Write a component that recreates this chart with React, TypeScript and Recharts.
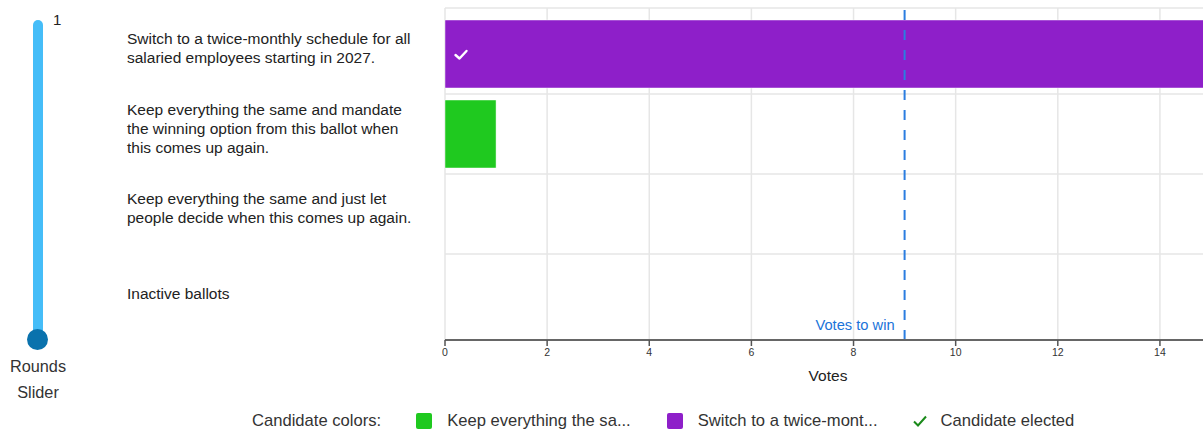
import React from 'react';
import { BarChart, Bar, XAxis, YAxis, CartesianGrid, ReferenceLine, Cell, LabelList } from 'recharts';

const FONT = '"Liberation Sans", Arial, Helvetica, sans-serif';

const categories = [
  'Switch to a twice-monthly schedule for all salaried employees starting in 2027.',
  'Keep everything the same and mandate the winning option from this ballot when this comes up again.',
  'Keep everything the same and just let people decide when this comes up again.',
  'Inactive ballots',
];
const votes = [15, 1, 0, 0];
const candidateColors = ['#8e1fc9', '#1fc91f', '#1f6fc9', '#9e9e9e'];
const elected = [1, 0, 0, 0];
const votesToWin = 9;
const xTicks = [0, 2, 4, 6, 8, 10, 12, 14];
const legendNames = ['Keep everything the same', 'Switch to a twice-monthly schedule'];
const legendColors = ['#1fc91f', '#8e1fc9'];
const roundLabel = '1';

const data = categories.map((name, i) => ({ name, votes: votes[i], elected: elected[i] }));

const LABEL_SIZE = 15.5;
const LINE_H = 19;

let ctx: CanvasRenderingContext2D | null = null;
function wrap(text: string, width: number, font: string): string[] {
  if (!ctx) ctx = document.createElement('canvas').getContext('2d');
  if (!ctx) return [text];
  ctx.font = font;
  const words = text.split(' ');
  const lines: string[] = [];
  let cur = '';
  for (const w of words) {
    const t = cur ? cur + ' ' + w : w;
    if (cur && ctx.measureText(t).width > width) {
      lines.push(cur);
      cur = w;
    } else cur = t;
  }
  if (cur) lines.push(cur);
  return lines;
}

const YTick = (props: any) => {
  const { y, payload } = props;
  const lines = wrap(String(payload.value), 296, `${LABEL_SIZE}px ${FONT}`);
  const shift = lines.length > 1 ? -6 : -1;
  const first = y + shift - ((lines.length - 1) * LINE_H) / 2 + 5.5;
  return (
    <text x={127} y={first} fill="#222" fontSize={LABEL_SIZE} fontFamily={FONT} textAnchor="start">
      {lines.map((l, i) => (
        <tspan key={i} x={127} dy={i === 0 ? 0 : LINE_H}>
          {l}
        </tspan>
      ))}
    </text>
  );
};

const CheckMark = (props: any) => {
  const { x, y, height, value } = props;
  if (Number(value) !== 1) return null;
  const cy = y + height / 2;
  return (
    <path
      d={`M${x + 10.5},${cy + 1} L${x + 14.5},${cy + 4.5} L${x + 21.5},${cy - 3}`}
      fill="none"
      stroke="#fff"
      strokeWidth={2.4}
      strokeLinecap="round"
      strokeLinejoin="round"
    />
  );
};

const truncate = (s: string) => (s.length > 22 ? s.slice(0, 22) + '...' : s);

export default function App() {
  return (
    <div style={{ position: 'absolute', left: 0, top: 0, width: 1203, height: 430, overflow: 'hidden', fontFamily: FONT, background: '#fff' }}>
      {/* Rounds slider */}
      <div style={{ position: 'absolute', left: 33, top: 20, width: 10, height: 320, background: '#45bdf8', borderRadius: 5 }} />
      <div style={{ position: 'absolute', left: 27, top: 329, width: 21, height: 21, background: '#0a72ad', borderRadius: '50%' }} />
      <div style={{ position: 'absolute', left: 53, top: 11, fontSize: 15, color: '#222' }}>{roundLabel}</div>
      <div style={{ position: 'absolute', left: 0, width: 76, top: 353, fontSize: 16.3, color: '#333', textAlign: 'center', lineHeight: '26px' }}>
        Rounds
        <br />
        Slider
      </div>

      <div style={{ position: 'absolute', left: 0, top: 0 }}>
        <BarChart
          width={1211}
          height={390}
          data={data}
          layout="vertical"
          margin={{ top: 8, right: 0, left: 0, bottom: 0 }}
          barCategoryGap="7.5%"
        >
          <CartesianGrid
            stroke="#e6e6e6"
            strokeWidth={1.5}
            horizontalCoordinatesGenerator={({ offset }: any) => {
              const inner = offset.top + 6;
              const step = (offset.height - 12) / categories.length;
              return [offset.top, inner + step, inner + 2 * step, inner + 3 * step];
            }}
          />
          <XAxis
            type="number"
            domain={[0, 15]}
            ticks={xTicks}
            height={50}
            tick={{ fontSize: 10.5, fill: '#333', fontFamily: FONT }}
            tickMargin={3}
            axisLine={{ stroke: '#666', strokeWidth: 2 }}
            tickLine={{ stroke: '#555', strokeWidth: 1.5 }}
            tickSize={6}
            label={{ value: 'Votes', position: 'insideBottom', offset: 9, fontSize: 15.5, fill: '#222', fontFamily: FONT, fontWeight: 500 }}
          />
          <YAxis
            type="category"
            dataKey="name"
            width={445}
            axisLine={false}
            tickLine={false}
            padding={{ top: 6, bottom: 6 }}
            tick={<YTick />}
            interval={0}
          />
          <Bar dataKey="votes" isAnimationActive={false} stroke="rgba(255,255,255,0.45)" strokeWidth={1}>
            {data.map((d, i) => (
              <Cell key={i} fill={candidateColors[i]} />
            ))}
            <LabelList dataKey="elected" content={<CheckMark />} />
          </Bar>
          <ReferenceLine
            x={votesToWin}
            stroke="#2b7de0"
            strokeWidth={2}
            strokeDasharray="10 10"
            label={{ value: 'Votes to win', position: 'insideBottomRight', offset: 10, fill: '#1a73d9', fontSize: 14.7, fontFamily: FONT }}
          />
        </BarChart>
      </div>

      {/* Legend */}
      <div style={{ position: 'absolute', left: 252, top: 411, height: 20, display: 'flex', alignItems: 'center', fontSize: 16.6, color: '#333', whiteSpace: 'nowrap' }}>
        <span>Candidate colors:</span>
        {legendNames.map((n, i) => (
          <React.Fragment key={i}>
            <span style={{ display: 'inline-block', width: 16, height: 16, borderRadius: 2, background: legendColors[i], marginLeft: i === 0 ? 35 : 36, marginRight: 15 }} />
            <span>{truncate(n)}</span>
          </React.Fragment>
        ))}
        <svg width={16} height={16} style={{ marginLeft: 34, marginRight: 13 }}>
          <path d="M2,8.5 L6,12.5 L14,3.5" fill="none" stroke="#1a8a1a" strokeWidth={2} />
        </svg>
        <span>Candidate elected</span>
      </div>
    </div>
  );
}
